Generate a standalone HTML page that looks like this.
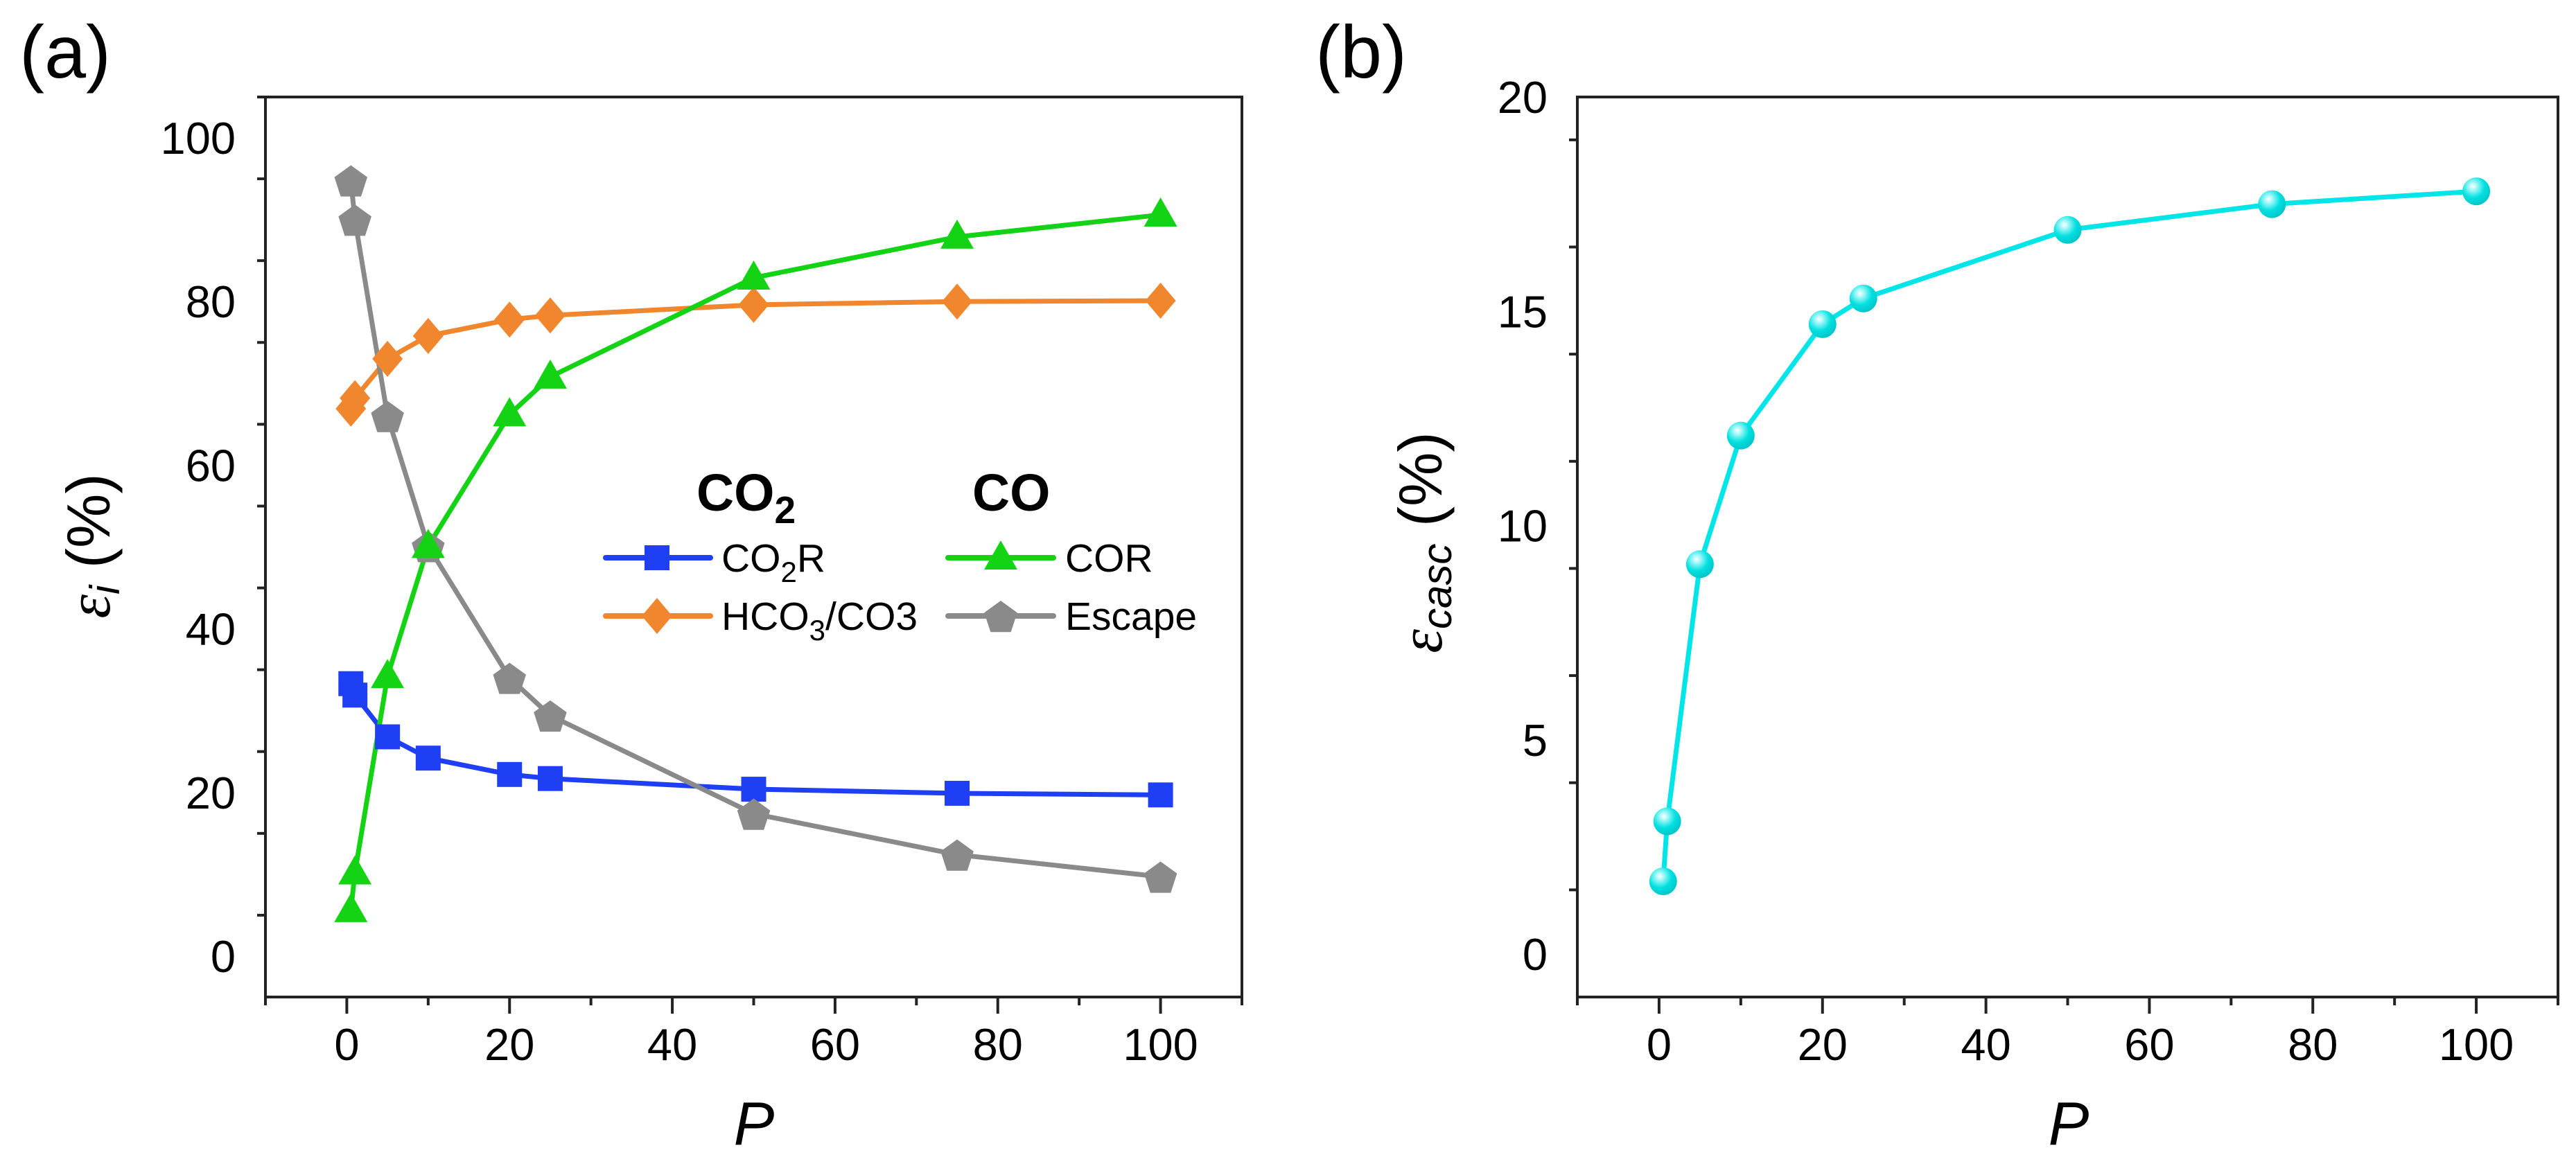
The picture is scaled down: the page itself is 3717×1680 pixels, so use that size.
<!DOCTYPE html>
<html><head><meta charset="utf-8"><style>
html,body{margin:0;padding:0;background:#fff;}
svg{display:block;font-family:"Liberation Sans",Arial,sans-serif;}
</style></head><body>
<svg id="fig" width="3717" height="1680" viewBox="0 0 3717 1680" xmlns="http://www.w3.org/2000/svg">
<defs>
<radialGradient id="ball" cx="0.38" cy="0.32" r="0.7">
<stop offset="0" stop-color="#ffffff"/><stop offset="0.25" stop-color="#8ff5f5"/><stop offset="0.6" stop-color="#00e0e0"/><stop offset="1" stop-color="#00c4c8"/>
</radialGradient>
</defs>
<text x="28" y="112" font-size="108">(a)</text>
<text x="1898" y="112" font-size="108">(b)</text>
<g id="pa"></g>
<g id="pb"></g>
</svg>
<script>
const P = [0.5, 1, 5, 10, 20, 25, 50, 75, 100];
const co2r = [33.3, 31.9, 26.8, 24.2, 22.2, 21.7, 20.4, 19.9, 19.7];
const hco3 = [66.9, 68.2, 73.0, 75.8, 77.8, 78.3, 79.6, 80.0, 80.1];
const cor = [5.6, 10.2, 34.2, 50.1, 66.2, 70.8, 82.9, 87.9, 90.6];
const escape = [94.8, 90.0, 66.0, 50.1, 34.0, 29.4, 17.4, 12.4, 9.7];
const casc = [1.7, 3.1, 9.1, 12.1, 14.7, 15.3, 16.9, 17.5, 17.8];
const xTicks = [0, 20, 40, 60, 80, 100];
const yTicksA = [0, 20, 40, 60, 80, 100];
const yTicksB = [0, 5, 10, 15, 20];

const NS = "http://www.w3.org/2000/svg";
function mk(parent, tag, attrs, txt){
  const e = document.createElementNS(NS, tag);
  for (const k in attrs) e.setAttribute(k, attrs[k]);
  if (txt !== undefined) e.textContent = txt;
  parent.appendChild(e);
  return e;
}
function axes(g, L, R, T, B, xmin, xmax, ymin, ymax, yT, yMinorStep, xMinorStep){
  const sx = v => L + (v - xmin) / (xmax - xmin) * (R - L);
  const sy = v => B - (v - ymin) / (ymax - ymin) * (B - T);
  const fr = mk(g, 'rect', {x:L, y:T, width:R-L, height:B-T, fill:'none', stroke:'#222', 'stroke-width':4});
  
  
  for (let v = xmin; v <= xmax + 1e-9; v += xMinorStep){
    const major = xTicks.includes(v);
    const t = mk(g, 'line', {x1:sx(v), x2:sx(v), y1:B, y2:B + (major ? 24 : 12), stroke:'#222', 'stroke-width':4});
    
    
  }
  xTicks.forEach(v => {
    const t = mk(g, 'text', {x:sx(v), y:1530, 'font-size':65, 'text-anchor':'middle'}, String(v));
    
    
  });
  for (let v = ymin; v <= ymax + 1e-9; v += yMinorStep){
    const major = yT.some(m => Math.abs(m - v) < 1e-9);
    if (Math.abs(v - ymin) < 1e-9 && !major) continue;
    const t = mk(g, 'line', {x1:L - (major ? 24 : 12), x2:L, y1:sy(v), y2:sy(v), stroke:'#222', 'stroke-width':4});
    
    
  }
  yT.forEach(v => {
    const t = mk(g, 'text', {x:L - 43, y:sy(v) + 23, 'font-size':65, 'text-anchor':'end'}, String(v));
    
    
  });
  return {sx, sy};
}
function series(g, sx, sy, ys, color, name){
  const pts = P.map((p, i) => sx(p) + ',' + sy(ys[i])).join(' ');
  const l = mk(g, 'polyline', {points:pts, fill:'none', stroke:color, 'stroke-width':7, 'stroke-linejoin':'round'});
  
  
}
function marker(g, cx, cy, shape, color){
  let e;
  if (shape === 'square') e = mk(g, 'rect', {x:cx-18, y:cy-18, width:36, height:36, fill:color});
  else if (shape === 'diamond') e = mk(g, 'polygon', {points:`${cx},${cy-26} ${cx+22},${cy} ${cx},${cy+26} ${cx-22},${cy}`, fill:color});
  else if (shape === 'triangle') e = mk(g, 'polygon', {points:`${cx},${cy-25} ${cx+24},${cy+17} ${cx-24},${cy+17}`, fill:color});
  else if (shape === 'pentagon'){
    let s = '';
    for (let k = 0; k < 5; k++){ const a = -Math.PI/2 + k*2*Math.PI/5; s += (cx + 25*Math.cos(a)) + ',' + (cy + 3 + 25*Math.sin(a)) + ' '; }
    e = mk(g, 'polygon', {points:s, fill:color});
  } else e = mk(g, 'circle', {cx:cx, cy:cy, r:20, fill:'url(#ball)'});
  return e;
}
function markers(g, sx, sy, ys, shape, color, name){
  P.forEach((p, i) => {
    const m = marker(g, sx(p), sy(ys[i]), shape, color);
    
    
  });
}

// Panel A
const ga = document.getElementById('pa');
const A = axes(ga, 383, 1792, 140, 1439, -10, 110, -5, 105, yTicksA, 10, 10);
const specs = [
  [co2r, 'square', '#1f3ff5', 'co2r'],
  [hco3, 'diamond', '#f0862e', 'hco3-co3'],
  [escape, 'pentagon', '#8a8a8a', 'escape'],
  [cor, 'triangle', '#14d214', 'cor']
];
specs.forEach(s => series(ga, A.sx, A.sy, s[0], s[2], s[3]));
specs.forEach(s => markers(ga, A.sx, A.sy, s[0], s[1], s[2], s[3]));

// legend A
const lg = mk(ga, 'g', {});


const t1 = mk(lg, 'text', {x:1005, y:737, 'font-size':75, 'font-weight':'bold'});
t1.innerHTML = 'CO<tspan font-size="55" dy="18">2</tspan>';


const t2 = mk(lg, 'text', {x:1403, y:737, 'font-size':75, 'font-weight':'bold'}, 'CO');


const entries = [
  [874, 1025, 948, 805, 'square', '#1f3ff5', 'CO<tspan font-size="42" dy="15">2</tspan><tspan dy="-15">R</tspan>', 1041],
  [874, 1025, 948, 889, 'diamond', '#f0862e', 'HCO<tspan font-size="42" dy="15">3</tspan><tspan dy="-15">/CO3</tspan>', 1041],
  [1368, 1520, 1444, 805, 'triangle', '#14d214', 'COR', 1537],
  [1368, 1520, 1444, 889, 'pentagon', '#8a8a8a', 'Escape', 1537]
];
entries.forEach(e => {
  const ge = mk(lg, 'g', {});
  
  
  mk(ge, 'line', {x1:e[0], x2:e[1], y1:e[3], y2:e[3], stroke:e[5], 'stroke-width':8, 'stroke-linecap':'round'});
  marker(ge, e[2], e[3], e[4], e[5]);
  const tx = mk(ge, 'text', {x:e[7], y:e[3] + 20, 'font-size':57});
  tx.innerHTML = e[6];
});
const ya = mk(ga, 'text', {transform:'translate(158,788) rotate(-90)', 'font-size':88, 'text-anchor':'middle'});
ya.innerHTML = '<tspan font-family="Liberation Serif, serif" font-style="italic">ε</tspan><tspan font-style="italic" font-size="60" dy="14">i</tspan><tspan dy="-14"> (%)</tspan>';


const xa = mk(ga, 'text', {x:1088, y:1652, 'font-size':88, 'font-style':'italic', 'text-anchor':'middle'}, 'P');



// Panel B
const gb = document.getElementById('pb');
const B = axes(gb, 2276, 3691, 140, 1439, -10, 110, -1, 20, yTicksB, 2.5, 10);
series(gb, B.sx, B.sy, casc, '#00e5e8', 'casc');
markers(gb, B.sx, B.sy, casc, 'ball', '#00e5e8', 'casc');
const yb = mk(gb, 'text', {transform:'translate(2080,783) rotate(-90)', 'font-size':88, 'text-anchor':'middle'});
yb.innerHTML = '<tspan font-family="Liberation Serif, serif" font-style="italic">ε</tspan><tspan font-style="italic" font-size="60" dy="14">casc</tspan><tspan dy="-14"> (%)</tspan>';


const xb = mk(gb, 'text', {x:2985, y:1652, 'font-size':88, 'font-style':'italic', 'text-anchor':'middle'}, 'P');


</script>
</body></html>
